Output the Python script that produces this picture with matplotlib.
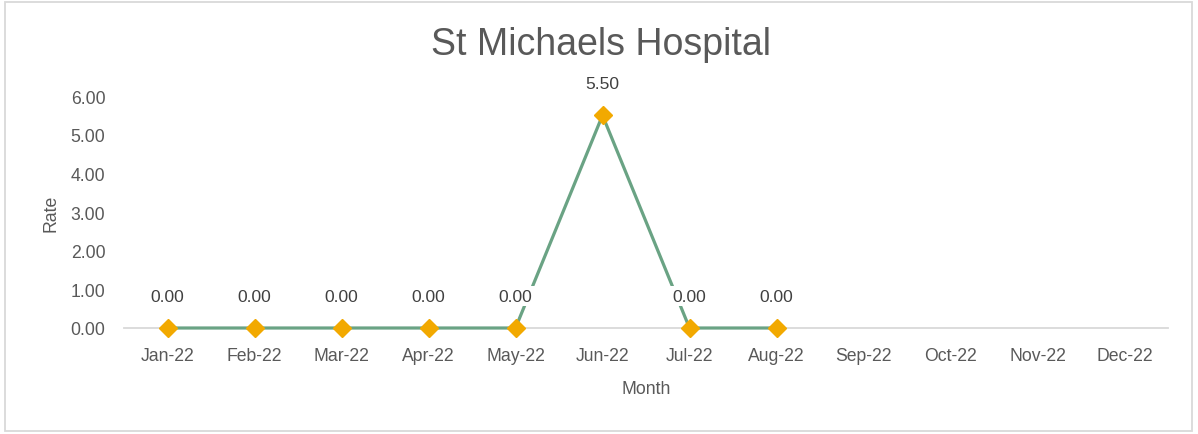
import matplotlib
matplotlib.use("Agg")
import matplotlib.pyplot as plt
from matplotlib.patches import Rectangle
import numpy as np

plt.rcParams['font.family'] = ['Liberation Sans', 'DejaVu Sans']

months = ["Jan-22", "Feb-22", "Mar-22", "Apr-22", "May-22", "Jun-22",
          "Jul-22", "Aug-22", "Sep-22", "Oct-22", "Nov-22", "Dec-22"]
rates = [0.00, 0.00, 0.00, 0.00, 0.00, 5.50, 0.00, 0.00,
         np.nan, np.nan, np.nan, np.nan]
yticks = [0, 1, 2, 3, 4, 5, 6]

TXT = "#595959"
W, H = 1198, 435
fig = plt.figure(figsize=(W / 100, H / 100), dpi=100)
fig.patch.set_facecolor("white")
fig.patches.append(Rectangle((5 / W, 3 / H), 1187 / W, 429 / H, transform=fig.transFigure,
                             fill=False, edgecolor="#d9d9d9", linewidth=1.3))

ax = fig.add_axes([124 / W, (H - 329) / H, 1044 / W, 232 / H])
x = np.arange(len(months))
ax.plot(x, rates, color="#6aa384", linewidth=2.3, marker="D", markersize=9.5,
        markerfacecolor="#f2a900", markeredgecolor="#f2a900", zorder=3, clip_on=False)

for xi, v in zip(x, rates):
    if not np.isnan(v):
        ax.annotate(f"{v:.2f}", (xi, v), xytext=(0, 23), textcoords="offset points",
                    ha="center", va="center", fontsize=12.5, color="#404040",
                    bbox=dict(boxstyle="square,pad=0.15", facecolor="white", edgecolor="none"),
                    zorder=4)

ax.set_xlim(-0.5, len(months) - 0.5)
ax.set_ylim(0, 6)
ax.set_xticks(x)
ax.set_xticklabels(months)
ax.set_yticks(yticks)
ax.set_yticklabels([f"{t:.2f}" for t in yticks])
ax.tick_params(axis="both", length=0, labelsize=12.7, colors=TXT)
ax.tick_params(axis="x", pad=14)
ax.tick_params(axis="y", pad=13.5)
for s in ["top", "right", "left"]:
    ax.spines[s].set_visible(False)
ax.spines["bottom"].set_color("#d9d9d9")
ax.spines["bottom"].set_linewidth(1.3)
ax.spines["bottom"].set_zorder(1)

ax.set_xlabel("Month", fontsize=12.7, color=TXT, labelpad=11)
ax.set_ylabel("Rate", fontsize=12.7, color=TXT, labelpad=8)
fig.text(601 / W, 1 - 45 / H, "St Michaels Hospital", ha="center", va="center",
         fontsize=27, color=TXT)

fig.savefig("out.png", dpi=100)
